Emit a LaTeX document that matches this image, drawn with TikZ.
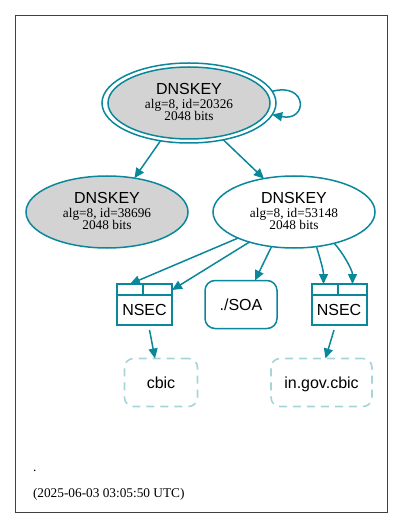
\documentclass[tikz,border=0pt]{standalone}
\usepackage{fontspec}
\setmainfont{Liberation Serif}
\newfontfamily\hv{Liberation Sans}
\usetikzlibrary{arrows.meta,shapes.geometric,calc}
\definecolor{teal1}{HTML}{0A879A}
\definecolor{teal2}{HTML}{A6D4DC}
\definecolor{fillg}{HTML}{D3D3D3}
\begin{document}
\begin{tikzpicture}[x=1bp,y=-1bp,
  every node/.style={inner sep=0pt,outer sep=0pt},
  keyel/.style={ellipse,draw=teal1,line width=1.5bp,minimum width=162bp,minimum height=72bp},
  conn/.style={draw=teal1,line width=1.5bp,-{Triangle[length=10bp,width=9bp]}},
  nsecbox/.style={draw=teal1,line width=2bp,minimum width=55bp,minimum height=41bp},
  zonebox/.style={draw=teal2,line width=1.6bp,dash pattern=on 8bp off 6bp,rounded corners=9bp,minimum height=48bp},
  big/.style={font=\hv\fontsize{16bp}{19bp}\selectfont},
  keyname/.style={anchor=base,font=\hv\fontsize{16bp}{19bp}\selectfont},
  keyinfo/.style={anchor=base,font=\fontsize{13.3bp}{15bp}\selectfont}]
\useasboundingbox (0,0) rectangle (403,528);
\node[draw=black!75,line width=0.7bp,minimum width=372bp,minimum height=497bp,anchor=north west] (frame) at (15,15) {};

% top DNSKEY double ellipse
\node[keyel,fill=white,minimum width=174bp,minimum height=80bp] (top) at (189,103) {};
\node[keyel,fill=fillg] (topin) at (189,103) {};
\node[keyname] (topa) at (189,94.5) {DNSKEY};
\node[keyinfo] (topb) at (189,108.5) {alg=8, id=20326};
\node[keyinfo] (topc) at (189,120.5) {2048 bits};

\node[keyel,fill=fillg] (left) at (107,212) {};
\node[keyname] (lefta) at (107,203.5) {DNSKEY};
\node[keyinfo] (leftb) at (107,217.5) {alg=8, id=38696};
\node[keyinfo] (leftc) at (107,229.5) {2048 bits};

\node[keyel,fill=white] (right) at (294,212) {};
\node[keyname] (righta) at (294,203.5) {DNSKEY};
\node[keyinfo] (rightb) at (294,217.5) {alg=8, id=53148};
\node[keyinfo] (rightc) at (294,229.5) {2048 bits};

% NSEC boxes
\node[nsecbox] (nsecl) at (144.5,304.5) {};
\draw[teal1,line width=2bp] ($(nsecl.north west)+(0,11)$) -- ($(nsecl.north east)+(0,11)$);
\draw[teal1,line width=2bp] ($(nsecl.north)+(-1.5,0)$) -- ($(nsecl.north)+(-1.5,11)$);
\node[big,anchor=base] (nsecllbl) at (144.5,315) {NSEC};

\node[nsecbox] (nsecr) at (339,304.5) {};
\draw[teal1,line width=2bp] ($(nsecr.north west)+(0,11)$) -- ($(nsecr.north east)+(0,11)$);
\draw[teal1,line width=2bp] ($(nsecr.north)+(-1.5,0)$) -- ($(nsecr.north)+(-1.5,11)$);
\node[big,anchor=base] (nsecrlbl) at (339,315) {NSEC};

% SOA
\node[draw=teal1,line width=1.5bp,rounded corners=10bp,minimum width=72bp,minimum height=48bp] (soa) at (241,304.5) {};
\node[big,anchor=base] (soalbl) at (241,310) {./SOA};

% zone boxes
\node[zonebox,minimum width=73bp] (cbic) at (161,382.5) {};
\node[big,anchor=base] (cbiclbl) at (161,388) {cbic};
\node[zonebox,minimum width=101bp] (ingov) at (321.5,382.5) {};
\node[big,anchor=base] (ingovlbl) at (321.5,388) {in.gov.cbic};

% footer
\node[anchor=base west,font=\fontsize{13.3bp}{15bp}\selectfont] (dot) at (33,471) {.};
\node[anchor=base west,font=\fontsize{13.3bp}{15bp}\selectfont] (stamp) at (33,497) {(2025-06-03 03:05:50 UTC)};

% edges
\draw[conn] (top.233) -- (left.51);
\draw[conn] (top.313) -- (right.132);
\draw[conn] (top.8) .. controls (308,82) and (308,122) .. (top.352);
\draw[conn] (right.205) -- ($(nsecl.north west)+(13,0)$);
\draw[conn] (right.214) -- ($(nsecl.north east)+(0,6)$);
\draw[conn] (right.237) -- ($(soa.north)+(14,0)$);
\draw[conn] (right.303) .. controls ($(right.303)+(3,10)$) and ($(nsecr.north west)+(12,-14)$) .. ($(nsecr.north west)+(12,0)$);
\draw[conn] (right.322) .. controls ($(right.322)+(8,8)$) and ($(nsecr.north east)+(-14,-14)$) .. ($(nsecr.north east)+(-14,0)$);
\draw[conn] ($(nsecl.south)+(5,5)$) -- ($(cbic.north)+(-6,0)$);
\draw[conn] ($(nsecr.south)+(-5,5)$) -- ($(ingov.north)+(4,0)$);
\end{tikzpicture}
\end{document}
